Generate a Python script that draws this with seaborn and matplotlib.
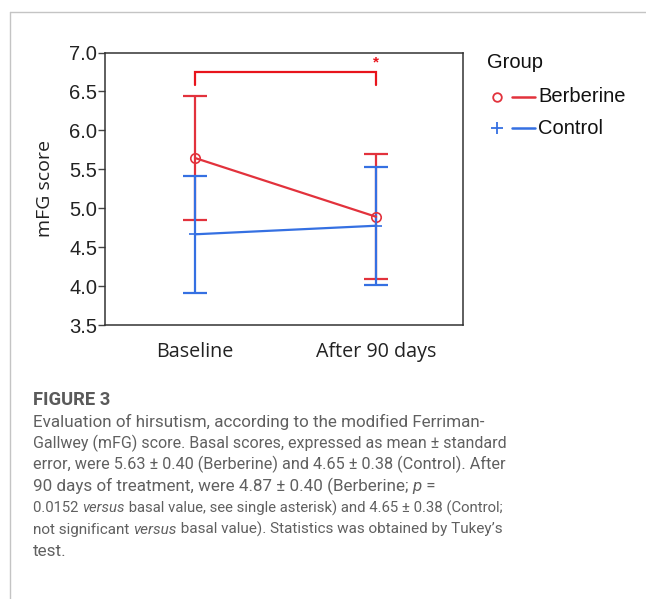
import numpy as np
import pandas as pd
import matplotlib
matplotlib.use("Agg")
import matplotlib.pyplot as plt
from matplotlib.lines import Line2D
import seaborn as sns

# ---- data ----
timepoints = ["Baseline", "After 90 days"]
groups = ["Berberine", "Control"]
berberine_mean = [5.645, 4.89]
berberine_err = [0.795, 0.80]
control_mean = [4.665, 4.775]
control_err = [0.755, 0.755]
y_ticks = [3.5, 4.0, 4.5, 5.0, 5.5, 6.0, 6.5, 7.0]
bracket_y = [6.58, 6.755]
sig_label = "*"

caption_title = "FIGURE 3"
caption_lines = [
    [("Evaluation of hirsutism, according to the modified Ferriman-", "normal")],
    [("Gallwey (mFG) score. Basal scores, expressed as mean \u00b1 standard", "normal")],
    [("error, were 5.63 \u00b1 0.40 (Berberine) and 4.65 \u00b1 0.38 (Control). After", "normal")],
    [("90 days of treatment, were 4.87 \u00b1 0.40 (Berberine; ", "normal"), ("p", "italic"), (" =", "normal")],
    [("0.0152 ", "normal"), ("versus", "italic"), (" basal value, see single asterisk) and 4.65 \u00b1 0.38 (Control;", "normal")],
    [("not significant ", "normal"), ("versus", "italic"), (" basal value). Statistics was obtained by Tukey\u2019s", "normal")],
    [("test.", "normal")],
]

colors = {"Berberine": "#e2323c", "Control": "#3570e2"}
markers = {"Berberine": "o", "Control": "+"}
bracket_color = "#e8141c"

df = pd.DataFrame({
    "Time": timepoints * 2,
    "pos": [0, 1] * 2,
    "Group": [groups[0]] * 2 + [groups[1]] * 2,
    "mean": berberine_mean + control_mean,
    "err": berberine_err + control_err,
})

sns.set_theme(style="white")
plt.rcParams["font.family"] = ["DejaVu Sans"]

W, H = 646, 599
fig = plt.figure(figsize=(W / 100, H / 100), dpi=100)
ax = fig.add_axes([105 / W, 1 - 325 / H, (463 - 105) / W, (325 - 52.5) / H])

for g in groups:
    sub = df[df["Group"] == g]
    ax.errorbar(sub["pos"], sub["mean"], yerr=sub["err"], fmt="none",
                ecolor=colors[g], elinewidth=1.6, capsize=8.3, capthick=1.6, zorder=2)
    sns.lineplot(data=sub, x="pos", y="mean", color=colors[g], marker=markers[g],
                 linewidth=1.6, markersize=9 if g == "Control" else 6.8,
                 markerfacecolor="none", markeredgecolor=colors[g], markeredgewidth=1.2,
                 legend=False, ax=ax, zorder=3)

# significance bracket
ax.plot([0, 0, 1, 1], [bracket_y[0], bracket_y[1], bracket_y[1], bracket_y[0]],
        color=bracket_color, lw=1.6, solid_joinstyle="miter", zorder=4)
ax.text(1, bracket_y[1] + 0.03, sig_label, color=bracket_color, ha="center", va="bottom",
        fontsize=11, fontweight="bold", fontfamily="Liberation Sans")

ax.set_xlim(-0.497, 1.48)
ax.set_ylim(3.5, 7.0)
ax.set_yticks(y_ticks)
ax.set_yticklabels([f"{t:.1f}" for t in y_ticks], fontsize=14.5, fontfamily="Liberation Sans",
                   color="#222222")
ax.set_xticks([0, 1])
ax.set_xticklabels(timepoints, fontsize=14.2, fontfamily="Open Sans", color="#222222")
ax.tick_params(axis="y", direction="out", length=5, width=1, color="#444444", pad=0.5, left=True)
ax.tick_params(axis="x", length=0, pad=12.5)
ax.set_xlabel("")
ax.set_ylabel("mFG score", fontsize=14, fontfamily="Open Sans", color="#222222", labelpad=11)
for s in ax.spines.values():
    s.set_visible(True)
    s.set_color("#333333")
    s.set_linewidth(1.1)

# legend (drawn in figure pixel coordinates)
def fx(px):
    return px / W

def fy(py):
    return 1 - py / H

leg_font = {"family": "Liberation Sans", "size": 14.5}
fig.text(fx(487), fy(63), "Group", ha="left", va="center", color="#111111", **leg_font)
leg_rows = [(groups[0], 97), (groups[1], 128)]
for g, yy in leg_rows:
    fig.add_artist(Line2D([fx(497)], [fy(yy)], marker=markers[g], ls="none", color=colors[g],
                          markersize=6.2 if g == "Berberine" else 9, markerfacecolor="none",
                          markeredgewidth=1.3))
    fig.add_artist(Line2D([fx(512), fx(535)], [fy(yy), fy(yy)], color=colors[g], lw=1.8))
    fig.text(fx(538), fy(yy), g, ha="left", va="center", color="#111111", **leg_font)

# frame lines
fig.add_artist(Line2D([fx(9.5), fx(9.5)], [0, fy(12.3)], color="#c4c4c4", lw=1))
fig.add_artist(Line2D([fx(9.5), 1], [fy(12.3), fy(12.3)], color="#c4c4c4", lw=1))

# caption
cap_color = "#606060"
cap_font = "Roboto"
fig.canvas.draw()
renderer = fig.canvas.get_renderer()

def seg_width(segs, size, weight="normal"):
    total = 0
    for txt, st in segs:
        t = fig.text(0, 0, txt, fontsize=size, fontstyle=st, fontweight=weight, fontfamily=cap_font)
        total += t.get_window_extent(renderer=renderer).width
        t.remove()
    return total

# size so that the first caption line spans the same width as in the reference
base = 12.0
cap_size = base * 452 / seg_width(caption_lines[0], base)
fig.text(fx(33), fy(400), caption_title, fontsize=13.2, fontweight="bold",
         fontfamily=cap_font, color="#5a5a5a", va="center", ha="left")

max_right = 503
y0 = 421.5
dy = 21.65
for i, segs in enumerate(caption_lines):
    total = seg_width(segs, cap_size)
    size = cap_size
    if 33 + total > max_right:
        size = cap_size * (max_right - 33) / total
    x = fx(33)
    y = fy(y0 + i * dy)
    for txt, st in segs:
        t = fig.text(x, y, txt, fontsize=size, fontstyle=st, fontfamily=cap_font,
                     color=cap_color, va="center", ha="left")
        bb = t.get_window_extent(renderer=renderer)
        x += bb.width / fig.bbox.width

fig.savefig("out.png", dpi=100)
